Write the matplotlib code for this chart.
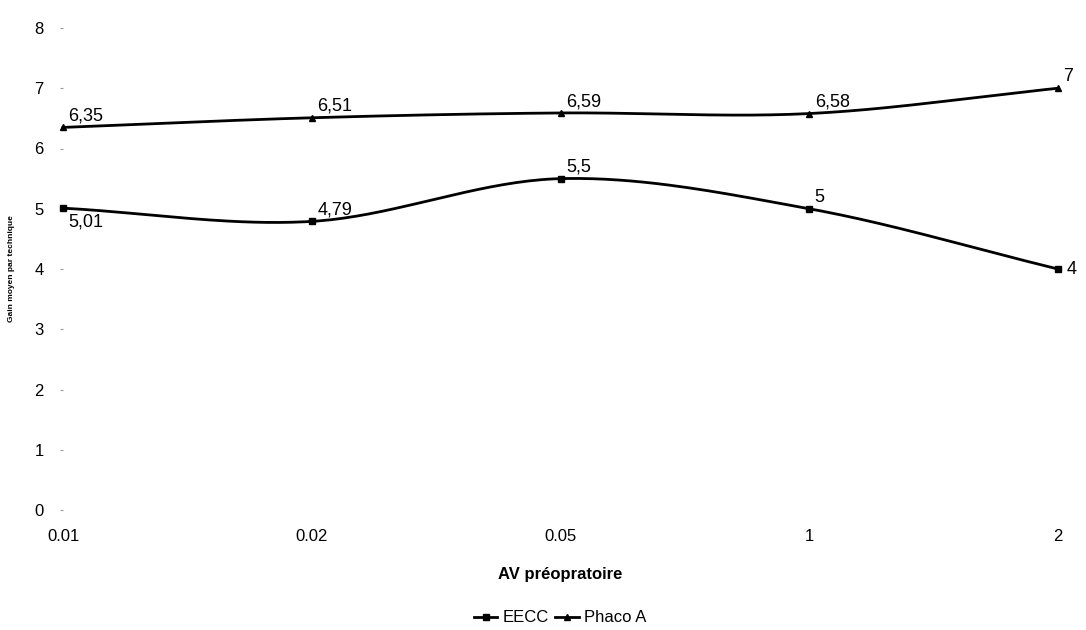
# gain moyen par technique selon l'AV preoperatoire
import numpy as np
import matplotlib.pyplot as plt

plt.rcParams['font.family'] = ['Liberation Sans', 'DejaVu Sans']

categories = ['0.01', '0.02', '0.05', '1', '2']
eecc = [5.01, 4.79, 5.5, 5.0, 4.0]
phaco = [6.35, 6.51, 6.59, 6.58, 7.0]
eecc_labels = ['5,01', '4,79', '5,5', '5', '4']
phaco_labels = ['6,35', '6,51', '6,59', '6,58', '7']


def smooth(y, n=40):
    # catmull-rom curve through the points, just for drawing
    x = np.arange(len(y), dtype=float)
    y = np.asarray(y, dtype=float)
    px = np.concatenate([[2 * x[0] - x[1]], x, [2 * x[-1] - x[-2]]])
    py = np.concatenate([[2 * y[0] - y[1]], y, [2 * y[-1] - y[-2]]])
    xs, ys = [], []
    t = np.linspace(0, 1, n)
    for i in range(1, len(px) - 2):
        for arr, out in ((px, xs), (py, ys)):
            p0, p1, p2, p3 = arr[i - 1:i + 3]
            out.extend(0.5 * (2 * p1 + (-p0 + p2) * t
                              + (2 * p0 - 5 * p1 + 4 * p2 - p3) * t ** 2
                              + (-p0 + 3 * p1 - 3 * p2 + p3) * t ** 3))
    return np.array(xs), np.array(ys)


fig = plt.figure(figsize=(10.86, 6.30), dpi=100)
ax = fig.add_axes([63 / 1086, 1 - 510 / 630, (1058 - 63) / 1086, (510 - 28) / 630])

x = np.arange(len(categories))
for vals, mk in ((eecc, 's'), (phaco, '^')):
    sx, sy = smooth(vals)
    ax.plot(sx, sy, color='black', lw=2, clip_on=False)
    ax.plot(x, vals, ls='none', marker=mk, ms=4, color='black', clip_on=False)

for i, v in enumerate(phaco):
    ax.annotate(phaco_labels[i], (i, v), xytext=(4, 2), textcoords='offset points',
                fontsize=13, ha='left', va='bottom')
for i, v in enumerate(eecc):
    if i == 0:
        ax.annotate(eecc_labels[i], (i, v), xytext=(4, -4), textcoords='offset points',
                    fontsize=13, ha='left', va='top')
    elif i == 4:
        ax.annotate(eecc_labels[i], (i, v), xytext=(6, 0), textcoords='offset points',
                    fontsize=13, ha='left', va='center')
    else:
        ax.annotate(eecc_labels[i], (i, v), xytext=(4, 2), textcoords='offset points',
                    fontsize=13, ha='left', va='bottom')

ax.set_xlim(0, 4)
ax.set_ylim(0, 8)
ax.set_xticks(x)
ax.set_xticklabels(categories)
ax.set_yticks(range(9))
for s in ax.spines.values():
    s.set_visible(False)
ax.tick_params(axis='y', length=2, color='#999999', labelsize=12, pad=12)
ax.tick_params(axis='x', length=0, labelsize=12, pad=14)

ax.set_xlabel('AV préopratoire', fontsize=12, fontweight='bold', labelpad=16)
ax.set_ylabel('Gain moyen par technique', fontsize=6, fontweight='bold', labelpad=14)

h1, = ax.plot([], [], color='black', lw=2, marker='s', ms=4)
h2, = ax.plot([], [], color='black', lw=2, marker='^', ms=4)
fig.legend([h1, h2], ['EECC', 'Phaco A'], loc='center', bbox_to_anchor=(560 / 1086, 1 - 618 / 630),
           ncol=2, frameon=False, fontsize=12, handlelength=1.4, handletextpad=0.3, columnspacing=0.4)

fig.savefig('out.png', dpi=100)
